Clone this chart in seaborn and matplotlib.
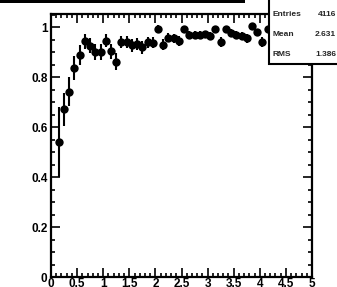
import numpy as np
import pandas as pd
import matplotlib
matplotlib.use("Agg")
import matplotlib.pyplot as plt
import seaborn as sns
from matplotlib.ticker import MultipleLocator
from matplotlib.patches import Rectangle

# Bin centres and efficiency values (visible points; the rest is hidden by the stats box)
x_vals = [0.15, 0.25, 0.35, 0.45, 0.55, 0.65, 0.75, 0.85, 0.95, 1.05,
          1.15, 1.25, 1.35, 1.45, 1.55, 1.65, 1.75, 1.85, 1.95, 2.05,
          2.15, 2.25, 2.35, 2.45, 2.55, 2.65, 2.75, 2.85, 2.95, 3.05,
          3.15, 3.25, 3.35, 3.45, 3.55, 3.65, 3.75, 3.85, 3.95, 4.05, 4.15]
y_vals = [0.541, 0.671, 0.741, 0.836, 0.888, 0.943, 0.925, 0.901, 0.899, 0.945,
          0.904, 0.861, 0.941, 0.939, 0.928, 0.931, 0.919, 0.939, 0.937, 0.991,
          0.930, 0.958, 0.956, 0.943, 0.992, 0.968, 0.968, 0.967, 0.971, 0.964,
          0.992, 0.941, 0.992, 0.977, 0.969, 0.965, 0.955, 1.004, 0.979, 0.941, 0.992]
y_errs = [0.140, 0.065, 0.058, 0.048, 0.040, 0.030, 0.030, 0.032, 0.032, 0.026,
          0.030, 0.034, 0.024, 0.024, 0.026, 0.024, 0.026, 0.022, 0.022, 0.016,
          0.022, 0.018, 0.018, 0.020, 0.012, 0.016, 0.016, 0.016, 0.015, 0.016,
          0.012, 0.020, 0.012, 0.014, 0.015, 0.015, 0.017, 0.010, 0.014, 0.020, 0.012]

stats_labels = ["Entries", "Mean", "RMS"]
stats_values = ["4116", "2.631", "1.386"]

x_ticks = [0, 0.5, 1, 1.5, 2, 2.5, 3, 3.5, 4, 4.5, 5]
x_ticklabels = ["0", "0.5", "1", "1.5", "2", "2.5", "3", "3.5", "4", "4.5", "5"]
y_ticks = [0, 0.2, 0.4, 0.6, 0.8, 1.0]
y_ticklabels = ["0", "0.2", "0.4", "0.6", "0.8", "1"]

df = pd.DataFrame({"x": x_vals, "y": y_vals, "err": y_errs})

sns.set_style("ticks")
plt.rcParams['font.family'] = ['Liberation Sans', 'DejaVu Sans']
plt.rcParams['font.weight'] = 'bold'

W, H = 337, 287
fig = plt.figure(figsize=(W / 100, H / 100), dpi=100)
ax = fig.add_axes([51 / W, 1 - 277 / H, (312 - 51) / W, (277 - 14) / H])

ax.errorbar(df["x"], df["y"], yerr=df["err"], fmt="none", ecolor="black",
            elinewidth=1.5, capsize=0, zorder=2)
sns.scatterplot(data=df, x="x", y="y", ax=ax, color="black", s=36,
                edgecolor="black", linewidth=0, zorder=3, legend=False)

ax.set_xlim(0, 5)
ax.set_ylim(0, 1.052)
ax.set_xlabel("")
ax.set_ylabel("")
ax.set_xticks(x_ticks)
ax.set_xticklabels(x_ticklabels)
ax.set_yticks(y_ticks)
ax.set_yticklabels(y_ticklabels)
ax.xaxis.set_minor_locator(MultipleLocator(0.1))
ax.yaxis.set_minor_locator(MultipleLocator(0.05))

ax.tick_params(axis="both", which="both", direction="in", top=True, right=True,
               colors="black", width=1.2)
ax.tick_params(axis="both", which="major", length=6.5, labelsize=8.5)
ax.tick_params(axis="both", which="minor", length=3)
ax.tick_params(axis="x", which="major", pad=1)
ax.tick_params(axis="y", which="major", pad=2.5)
for lab in ax.get_xticklabels() + ax.get_yticklabels():
    lab.set_fontweight("bold")
for sp in ax.spines.values():
    sp.set_visible(True)
    sp.set_linewidth(1.6)
    sp.set_color("black")

# Title pave bottom edge (title itself is off the top of the canvas)
fig.patches.append(Rectangle((0, 1 - 3 / H), 245 / W, 3 / H, transform=fig.transFigure,
                             facecolor="black", edgecolor="none", zorder=5))

# Stats box
fig.patches.append(Rectangle((269 / W, 1 - 64 / H), (W - 269 + 5) / W, 70 / H,
                             transform=fig.transFigure, facecolor="white",
                             edgecolor="black", linewidth=1.5, zorder=10))
for i, (lab, val) in enumerate(zip(stats_labels, stats_values)):
    yy = 1 - (14 + 20 * i) / H
    fig.text(272.5 / W, yy, lab, ha="left", va="center", fontsize=6,
             fontweight="bold", zorder=11)
    fig.text(336 / W, yy, val, ha="right", va="center", fontsize=6,
             fontweight="bold", zorder=11)

fig.savefig("out.png", dpi=100)
